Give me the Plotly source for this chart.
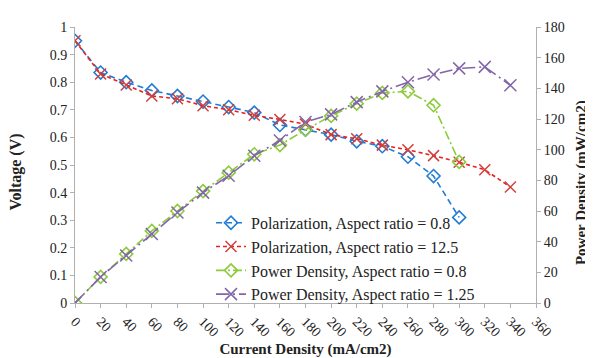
import plotly.graph_objects as go

current = [0, 20, 40, 60, 80, 100, 120, 140, 160, 180, 200, 220, 240, 260, 280, 300, 320, 340]

pol_ar08_x = current[:16]
pol_ar08 = [0.95, 0.835, 0.80, 0.77, 0.75, 0.73, 0.71, 0.69, 0.645, 0.628, 0.61, 0.586, 0.568, 0.53, 0.46, 0.31]

pol_ar125_x = current
pol_ar125 = [0.95, 0.83, 0.79, 0.75, 0.74, 0.715, 0.70, 0.68, 0.665, 0.648, 0.61, 0.595, 0.572, 0.555, 0.534, 0.51, 0.483, 0.42]

pd_ar08_x = current[:16]
pd_ar08 = [0, 17, 32, 47, 60, 73, 85, 97, 103, 113, 122, 130, 137, 138, 129, 92]

pd_ar125_x = current
pd_ar125 = [0, 17, 31, 45, 59, 72, 83, 96, 106, 118, 123, 131, 138, 144, 149, 153, 154, 142]

FONT = "Liberation Serif"

fig = go.Figure()
fig.add_trace(go.Scatter(
    x=pol_ar08_x, y=pol_ar08, name="Polarization, Aspect ratio = 0.8",
    mode="lines+markers",
    line=dict(color="#1F7BD3", width=1.6, dash="6px,4px"),
    marker=dict(symbol="diamond-open", size=10, color="#1F7BD3", line=dict(width=1.6)),
))
fig.add_trace(go.Scatter(
    x=pol_ar125_x, y=pol_ar125, name="Polarization, Aspect ratio = 12.5",
    mode="lines+markers",
    line=dict(color="#E8211E", width=1.6, dash="4px,3px"),
    marker=dict(symbol="x-thin-open", size=11, color="#D0403C", line=dict(width=1.5, color="#D0403C")),
))
fig.add_trace(go.Scatter(
    x=pd_ar08_x, y=pd_ar08, name="Power Density, Aspect ratio = 0.8",
    mode="lines+markers", yaxis="y2",
    line=dict(color="#8CCB3C", width=1.6, dash="9px,3px,2px,3px"),
    marker=dict(symbol="diamond-open", size=10, color="#8CCB3C", line=dict(width=1.6)),
))
fig.add_trace(go.Scatter(
    x=pd_ar125_x, y=pd_ar125, name="Power Density, Aspect ratio = 1.25",
    mode="lines+markers", yaxis="y2",
    line=dict(color="#8366A8", width=1.6, dash="13px,4px,2px,4px"),
    marker=dict(symbol="x-thin-open", size=12, color="#8366A8", line=dict(width=1.5, color="#8366A8")),
))

axis_common = dict(
    showgrid=False, zeroline=False, showline=True, linecolor="#B0B0B0", linewidth=1,
    ticks="outside", ticklen=4, tickcolor="#B0B0B0",
    tickfont=dict(family=FONT, size=14, color="#222"),
)

fig.update_layout(
    width=593, height=358,
    margin=dict(l=67, r=65, t=12, b=54),
    paper_bgcolor="white", plot_bgcolor="white",
    font=dict(family=FONT, size=14, color="#222"),
    showlegend=True,
    legend=dict(x=0.295, y=0.352, xanchor="left", yanchor="top",
                bgcolor="rgba(0,0,0,0)", font=dict(family=FONT, size=16, color="#222"),
                tracegroupgap=0, itemwidth=30),
    xaxis=dict(range=[0, 360], tickmode="linear", tick0=0, dtick=20, tickangle=45,
               title=dict(text="<b>Current Density (mA/cm2)</b>", font=dict(family=FONT, size=15), standoff=4),
               **axis_common),
    yaxis=dict(range=[0, 1], tickmode="linear", tick0=0, dtick=0.1, **axis_common),
    yaxis2=dict(range=[0, 180], tickmode="linear", tick0=0, dtick=20, overlaying="y", side="right",
                **axis_common),
    annotations=[
        dict(text="<b>Voltage (V)</b>", xref="paper", yref="paper", x=-0.128, y=0.476,
             xanchor="center", yanchor="middle", textangle=-90, showarrow=False,
             font=dict(family=FONT, size=16, color="#222")),
        dict(text="<b>Power Density (mW/cm2)</b>", xref="paper", yref="paper", x=1.10, y=0.435,
             xanchor="center", yanchor="middle", textangle=-90, showarrow=False,
             font=dict(family=FONT, size=15, color="#222")),
    ],
)

fig.write_html("out.html")
